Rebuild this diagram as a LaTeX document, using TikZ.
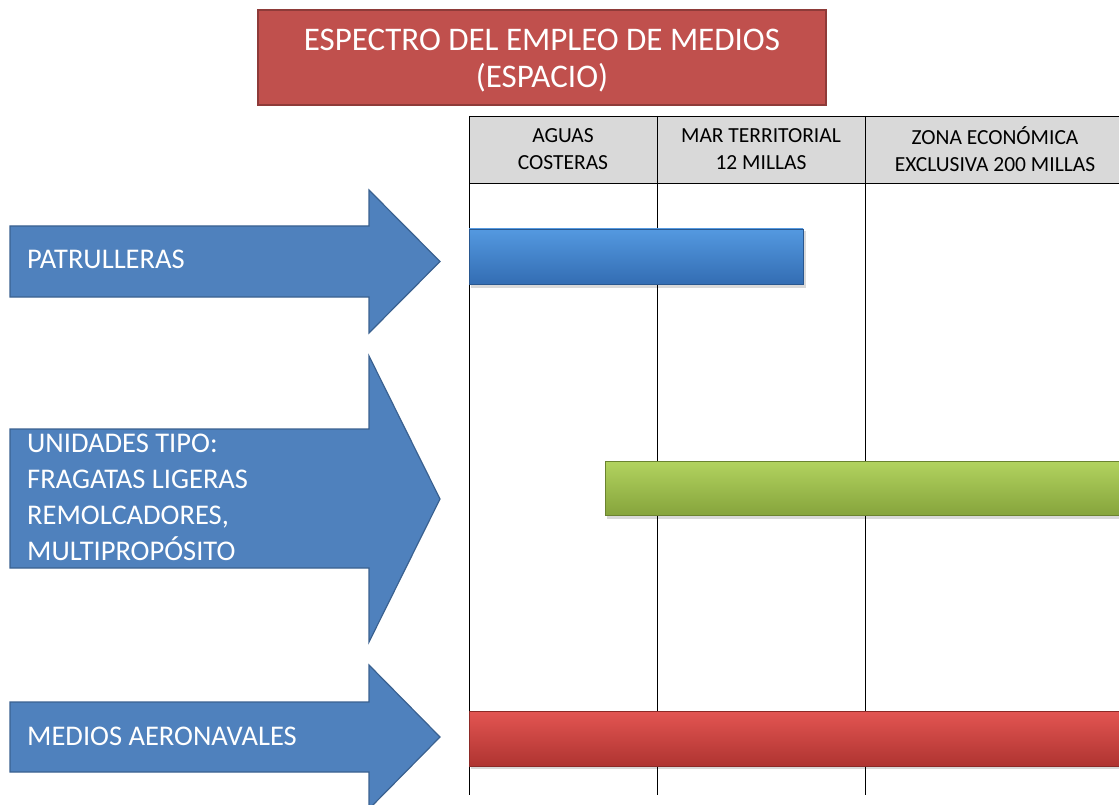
\documentclass[tikz,border=0pt]{standalone}
\usepackage{fontspec}
\setmainfont{Carlito}
\definecolor{titlered}{HTML}{C0504D}
\definecolor{titleedge}{HTML}{8E3B39}
\definecolor{arrowblue}{HTML}{4F81BD}
\definecolor{arrowedge}{HTML}{3A6190}
\definecolor{headgray}{HTML}{D9D9D9}
\definecolor{bluetop}{HTML}{5499E0}
\definecolor{bluemid}{HTML}{4083D2}
\definecolor{bluebot}{HTML}{336DB3}
\definecolor{greentop}{HTML}{B2D35F}
\definecolor{greenmid}{HTML}{A0C44D}
\definecolor{greenbot}{HTML}{86A43C}
\definecolor{redtop}{HTML}{E35552}
\definecolor{redmid}{HTML}{D14340}
\definecolor{redbot}{HTML}{AF3431}
\begin{document}
\begin{tikzpicture}[x=1pt,y=-1pt,
        armlabel/.style={text=white,font=\fontsize{28.5}{36}\selectfont,align=left,anchor=west,inner sep=0pt},
        colhead/.style={font=\fontsize{21.5}{27}\selectfont,align=center,inner sep=0pt},
        bigarrow/.style={fill=arrowblue,draw=arrowedge,line width=1.2pt},
        bar/.style={draw=#1bot!80!black,line width=0.6pt,top color=#1top,middle color=#1mid,bottom color=#1bot}]
        \clip (0,0) rectangle (1119,805);
        \draw[fill=titlered,draw=titleedge,line width=1.5pt] (258,10) rectangle (826,105);
        \node[text=white,align=center,font=\fontsize{33}{37}\selectfont] (title) at (542,61) {ESPECTRO DEL EMPLEO DE MEDIOS\\(ESPACIO)};
        \fill[headgray] (469,116) rectangle (1119,183);
        \draw[line width=0.8pt] (469,116) -- (1119,116) (469,183) -- (1119,183);
        \foreach \x in {469,657,865}
            \draw[line width=0.8pt] (\x,116) -- (\x,795);
        \node[colhead] (aguas) at (563,149) {AGUAS\\COSTERAS};
        \node[colhead] (mar) at (761,149) {MAR TERRITORIAL\\12 MILLAS};
        \node[colhead] (zona) at (995,149) {ZONA ECONÓMICA\\EXCLUSIVA 200 MILLAS};
        \draw[bigarrow] (10,226) -- (369,226) -- (369,190) -- (440,261.5) -- (369,333) -- (369,297) -- (10,297) -- cycle;
        \draw[bigarrow] (10,429) -- (369,429) -- (369,356) -- (440,499) -- (369,642) -- (369,568) -- (10,568) -- cycle;
        \draw[bigarrow] (10,702) -- (369,702) -- (369,665) -- (440,737) -- (369,809) -- (369,772) -- (10,772) -- cycle;
        \node[armlabel] (patrulleras) at (27,259) {PATRULLERAS};
        \node[armlabel] (unidades) at (27,497) {UNIDADES TIPO:\\FRAGATAS LIGERAS\\REMOLCADORES,\\MULTIPROPÓSITO};
        \node[armlabel] (aeronavales) at (27,736) {MEDIOS AERONAVALES};
        \fill[black,opacity=0.15] (471,231) rectangle (806,288);
        \fill[black,opacity=0.15] (607,463) rectangle (1125,519);
        \fill[black,opacity=0.15] (471,713) rectangle (1125,769);
        \shade[bar=blue] (469,229) rectangle (803,284);
        \shade[bar=green] (605,461) rectangle (1125,515);
        \shade[bar=red] (469,711) rectangle (1125,766);
\end{tikzpicture}
\end{document}
